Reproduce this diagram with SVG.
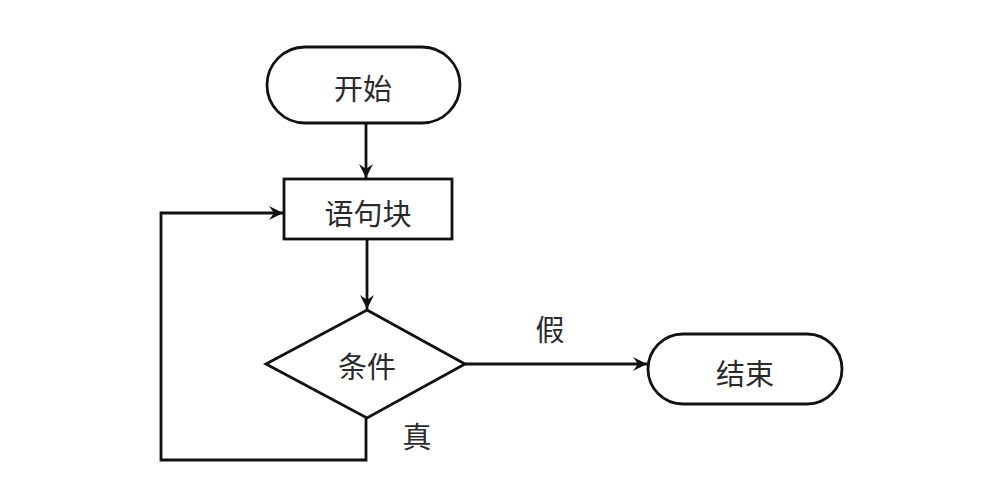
<svg xmlns="http://www.w3.org/2000/svg" width="996" height="499" viewBox="0 0 996 499">
<style>
.s{fill:#fff;stroke:#111;stroke-width:2.8}
.t{font-family:"Noto Sans CJK SC","Noto Sans",sans-serif;font-size:29px;font-weight:400;fill:#2a2a2a;text-anchor:middle;dominant-baseline:central}
.c{fill:none;stroke:#111;stroke-width:2.8}
</style>
<defs>
<marker id="a" markerWidth="16" markerHeight="14" refX="14" refY="7" orient="auto" markerUnits="userSpaceOnUse">
<path d="M0,0 L14,7 L0,14 L5,7 Z" fill="#111"/>
</marker>
</defs>
<rect width="996" height="499" fill="#fff"/>
<g id="connectors">
<path class="c" d="M366,124 V178" marker-end="url(#a)"/>
<path class="c" d="M367,240 V309" marker-end="url(#a)"/>
<path class="c" d="M465,364 H647" marker-end="url(#a)"/>
<path class="c" d="M366,418 V460 H161 V213 H283" marker-end="url(#a)"/>
<text class="t" x="550" y="328">假</text>
<text class="t" x="417" y="435">真</text>
</g>
<g id="start">
<rect class="s" x="267" y="47" width="193" height="76" rx="38"/>
<text class="t" x="363" y="87">开始</text>
</g>
<g id="block">
<rect class="s" x="284" y="179" width="168" height="60"/>
<text class="t" x="368" y="212">语句块</text>
</g>
<g id="cond">
<polygon class="s" points="367,310 465,364 367,418 266,364"/>
<text class="t" x="367" y="365">条件</text>
</g>
<g id="end">
<rect class="s" x="648" y="334" width="194" height="70" rx="35"/>
<text class="t" x="745" y="372">结束</text>
</g>
</svg>
